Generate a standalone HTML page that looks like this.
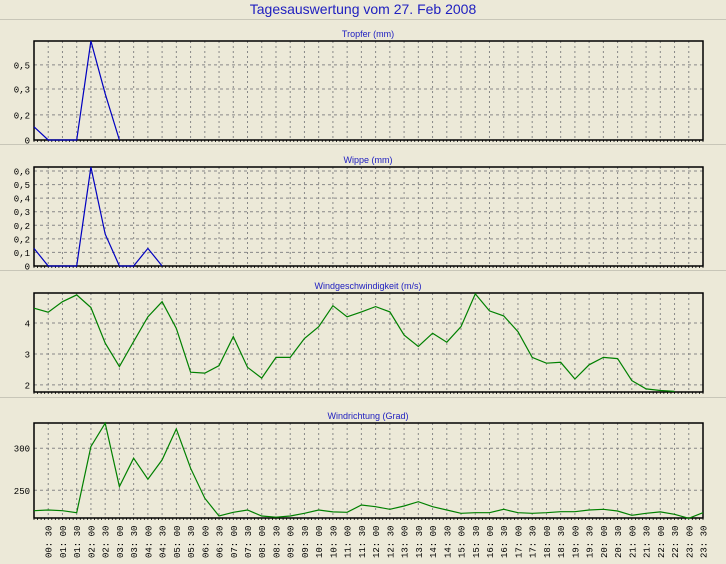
<!DOCTYPE html>
<html><head><meta charset="utf-8"><style>
html,body{margin:0;padding:0;background:#ece9d8;}
svg{display:block;font-family:"Liberation Sans",sans-serif;}
</style></head><body>
<svg id="c" width="726" height="564" xmlns="http://www.w3.org/2000/svg">
<rect width="726" height="564" fill="#ece9d8"/>
<text x="363" y="14" text-anchor="middle" font-size="14" fill="#2020c0">Tagesauswertung vom 27. Feb 2008</text>
<line x1="0" y1="19.5" x2="726" y2="19.5" stroke="#c8c6b8"/>
</svg>
<script>
const timeLabels=["00:30","01:00","01:30","02:00","02:30","03:00","03:30","04:00","04:30","05:00","05:30","06:00","06:30","07:00","07:30","08:00","08:30","09:00","09:30","10:00","10:30","11:00","11:30","12:00","12:30","13:00","13:30","14:00","14:30","15:00","15:30","16:00","16:30","17:00","17:30","18:00","18:30","19:00","19:30","20:00","20:30","21:00","21:30","22:00","22:30","23:00","23:30"];
const tropfer=[0.08,0,0,0,0.6,0.28,0];
const wippe=[0.11,0,0,0,0.62,0.2,0,0,0.11,0];
const wind=[4.48,4.35,4.69,4.91,4.5,3.35,2.59,3.4,4.2,4.69,3.83,2.41,2.38,2.62,3.56,2.57,2.22,2.89,2.89,3.5,3.88,4.56,4.2,4.36,4.53,4.36,3.61,3.24,3.67,3.38,3.88,4.94,4.39,4.23,3.72,2.89,2.7,2.73,2.19,2.65,2.89,2.85,2.14,1.87,1.82,1.79];
const richtung=[225.7,226.5,225.7,223.3,301.9,329.8,254.3,288.1,263.1,286.1,323,276.2,240.5,219.4,223.8,226.5,219.4,217.9,219.4,222.6,226.5,224.2,223.8,232.5,230.5,227.4,231.3,236.4,230.5,226.5,222.6,223.3,223.3,227.4,223.3,222.6,223.3,224.5,224.5,226.5,227.4,225.3,220.2,222.6,224.2,221.4,216.7,223.3];
const tropferTicks=[0,0.152,0.309,0.455];
const tropferTickLabels=["0","0,2","0,3","0,5"];
const wippeTicks=[0,0.085,0.17,0.255,0.34,0.425,0.51,0.595];
const wippeTickLabels=["0","0,1","0,2","0,2","0,3","0,4","0,5","0,6"];
const windTicks=[2,3,4];
const windTickLabels=["2","3","4"];
const richtungTicks=[250,300];
const richtungTickLabels=["250","300"];

const svg=document.getElementById('c');
const NS='http://www.w3.org/2000/svg';
const X0=34,X1=703,N=48;
function xs(i){return X0+i*(X1-X0)/(N-1);}
function mk(tag,attrs,parent){const e=document.createElementNS(NS,tag);for(const k in attrs)e.setAttribute(k,attrs[k]);(parent||svg).appendChild(e);return e;}

function panel(key,title,top,bottom,ymin,ymax,ticks,labels,data,color,sepY){
  const g=mk('g',{});
  
  
  const ys=v=>bottom-(v-ymin)/(ymax-ymin)*(bottom-top);
  const t=mk('text',{x:368,y:top-4,'text-anchor':'middle','font-size':9,fill:'#2020c0'},g);
  t.textContent=title;
  
  
  for(let i=1;i<N-1;i++){
    const l=mk('line',{x1:xs(i),y1:top,x2:xs(i),y2:bottom,stroke:'#888','stroke-width':1,'stroke-dasharray':'2,3'},g);
    
    
  }
  ticks.forEach((v,k)=>{
    const y=ys(v);
    if(v!==ymin){
      const l=mk('line',{x1:X0,y1:y,x2:X1,y2:y,stroke:'#888','stroke-width':1,'stroke-dasharray':'3,3'},g);
      
      
    }
    const tl=mk('text',{x:X0-4,y:y+3.5,'text-anchor':'end','font-size':9,fill:'#000','font-family':'Liberation Mono, monospace'},g);
    tl.textContent=labels[k];
    
    
  });
  for(let i=0;i<N*4;i++){
    const x=X0+i*(X1-X0)/(N-1)/4; if(x>X1)break;
    mk('line',{x1:x,y1:bottom,x2:x,y2:bottom+2,stroke:'#000','stroke-width':0.8},g);
  }
  const frame=mk('rect',{x:X0,y:top,width:X1-X0,height:bottom-top,fill:'none',stroke:'#000','stroke-width':1.5},g);
  
  
  const pts=data.map((v,i)=>xs(i).toFixed(1)+','+ys(v).toFixed(1)).join(' ');
  const pl=mk('polyline',{points:pts,fill:'none',stroke:color,'stroke-width':1.2},g);
  
  
  if(sepY){
    const s=mk('line',{x1:0,y1:sepY,x2:726,y2:sepY,stroke:'#c8c6b8'},g);
    
    
  }
}
panel('tropfer','Tropfer (mm)',41,140,0,0.6,tropferTicks,tropferTickLabels,tropfer,'#0000c0',144.5);
panel('wippe','Wippe (mm)',167,266,0,0.62,wippeTicks,wippeTickLabels,wippe,'#0000c0',270.5);
panel('wind-speed','Windgeschwindigkeit (m/s)',293,392,1.77,4.97,windTicks,windTickLabels,wind,'#008000',397.5);
panel('wind-direction','Windrichtung (Grad)',423,518,217,330,richtungTicks,richtungTickLabels,richtung,'#008000',null);
timeLabels.forEach((lab,k)=>{
  const x=xs(k+1);
  const t=mk('text',{x:0,y:0,'font-size':9,'font-family':'Liberation Mono, monospace',fill:'#000',transform:'translate('+(x+3.5)+',558) rotate(-90)'});
  t.textContent=lab.replace(':',': ');
  
  
});
</script>
</body></html>
